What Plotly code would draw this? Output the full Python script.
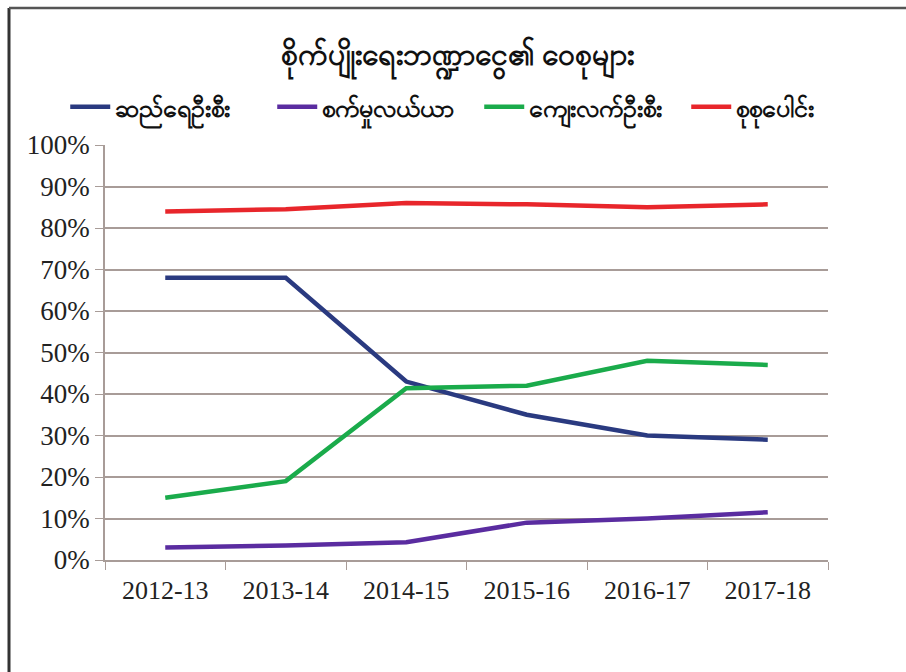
import plotly.graph_objects as go

categories = ["2012-13", "2013-14", "2014-15", "2015-16", "2016-17", "2017-18"]
series_names = ["ဆည်ရေဦးစီး", "စက်မှုလယ်ယာ", "ကျေးလက်ဦးစီး", "စုစုပေါင်း"]
irrigation = [0.68, 0.68, 0.43, 0.35, 0.30, 0.29]
mechanization = [0.03, 0.035, 0.043, 0.09, 0.10, 0.115]
rural = [0.15, 0.19, 0.414, 0.42, 0.48, 0.47]
total = [0.84, 0.845, 0.86, 0.857, 0.85, 0.857]
colors = ["#2a3a80", "#5a2ca0", "#1aab4b", "#e8262b"]
title_text = "စိုက်ပျိုးရေးဘဏ္ဍာငွေ၏ ဝေစုများ"
y_ticks = [i / 10 for i in range(11)]
y_tick_labels = [f"{i*10}%" for i in range(11)]

fig = go.Figure()
for name, vals, col in zip(series_names, [irrigation, mechanization, rural, total], colors):
    fig.add_trace(go.Scatter(x=categories, y=vals, mode="lines", name="<b>" + name + "</b>",
                             line=dict(color=col, width=4.5)))

grid_col = "#a89c98"
fig.update_layout(
    width=906, height=672,
    margin=dict(l=105, r=78, t=145, b=112),
    paper_bgcolor="white", plot_bgcolor="white",
    title=dict(text="<b>" + title_text + "</b>", x=0.505, xanchor="center", y=1 - 54 / 672,
               yanchor="middle",
               font=dict(family="Noto Sans, DejaVu Sans", size=30, color="#111111")),
    legend=dict(orientation="h", x=-0.055, xanchor="left", y=1 + 38 / 415, yanchor="middle",
                font=dict(family="Noto Sans, DejaVu Sans", size=25, color="#111111"),
                entrywidth=152, entrywidthmode="pixels",
                itemwidth=40, tracegroupgap=0, bgcolor="rgba(0,0,0,0)"),
    showlegend=True,
    font=dict(family="Liberation Serif", color="#222222"),
)
fig.update_xaxes(type="category", tickson="boundaries", ticks="outside", ticklen=8,
                 tickcolor=grid_col, showline=True, linecolor=grid_col, linewidth=1.5,
                 showgrid=False, tickfont=dict(family="Liberation Serif", size=26, color="#222222"),
                 ticklabelstandoff=6, range=[-0.5, 5.5])
fig.update_yaxes(range=[0, 1], tickvals=y_ticks, ticktext=y_tick_labels, ticks="outside",
                 ticklen=8, tickcolor=grid_col, showline=True, linecolor=grid_col, linewidth=1.5,
                 showgrid=True, gridcolor=grid_col, gridwidth=1.5, zeroline=False,
                 tickfont=dict(family="Liberation Serif", size=27, color="#222222"))

# outer frame (left and top edges)
fig.add_shape(type="line", xref="paper", yref="paper", x0=-96 / 723, x1=-96 / 723,
              y0=-112 / 415, y1=1 + 137 / 415, line=dict(color="#333333", width=3))
fig.add_shape(type="line", xref="paper", yref="paper", x0=-96 / 723, x1=1 + 78 / 723,
              y0=1 + 137 / 415, y1=1 + 137 / 415, line=dict(color="#555555", width=2.5))

fig.write_html("out.html")
